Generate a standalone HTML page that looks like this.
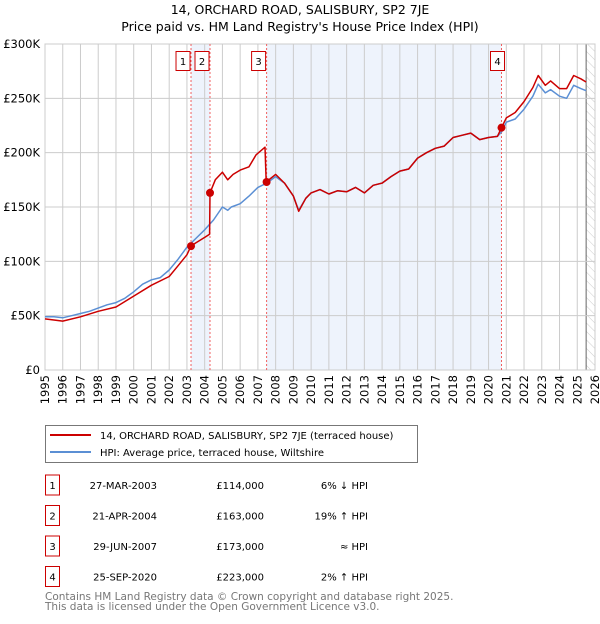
<!DOCTYPE html>
<html><head><meta charset="utf-8"><style>
body{margin:0;background:#fff;font-family:"DejaVu Sans","Liberation Sans",sans-serif;}
svg text{font-family:"DejaVu Sans","Liberation Sans",sans-serif;}
</style></head><body>
<svg id="c" width="600" height="620" xmlns="http://www.w3.org/2000/svg">
<defs><pattern id="hatch" width="6" height="6" patternUnits="userSpaceOnUse" patternTransform="rotate(-45)"><line x1="0" y1="0" x2="0" y2="6" stroke="#ccc" stroke-width="1"/></pattern></defs>
<text x="300" y="14" text-anchor="middle" font-size="12.5">14, ORCHARD ROAD, SALISBURY, SP2 7JE</text>
<text x="300" y="31" text-anchor="middle" font-size="12.5">Price paid vs. HM Land Registry's House Price Index (HPI)</text>
<g id="plot"></g>
<g>
<rect x="45.5" y="425.5" width="372" height="37" fill="#fff" stroke="#777"/>
<line x1="50" y1="435" x2="91" y2="435" stroke="#cc0000" stroke-width="2"/>
<text x="100" y="439" font-size="10">14, ORCHARD ROAD, SALISBURY, SP2 7JE (terraced house)</text>
<line x1="50" y1="452" x2="91" y2="452" stroke="#5b8fd4" stroke-width="2"/>
<text x="100" y="456" font-size="10">HPI: Average price, terraced house, Wiltshire</text>
</g>
<g id="table" font-size="10"></g>
<text x="45" y="600" font-size="10.5" fill="#777">Contains HM Land Registry data © Crown copyright and database right 2025.</text>
<text x="45" y="610" font-size="10.5" fill="#777">This data is licensed under the Open Government Licence v3.0.</text>
</svg>
<script>
const hpiDates=[1995,1995.5,1996,1996.5,1997,1997.5,1998,1998.5,1999,1999.5,2000,2000.5,2001,2001.5,2002,2002.5,2003,2003.5,2004,2004.5,2005,2005.3,2005.5,2006,2006.5,2007,2007.5,2008,2008.5,2009,2009.3,2009.7,2010,2010.5,2011,2011.5,2012,2012.5,2013,2013.5,2014,2014.5,2015,2015.5,2016,2016.5,2017,2017.5,2018,2018.5,2019,2019.5,2020,2020.5,2020.73,2021,2021.5,2022,2022.5,2022.8,2023.2,2023.5,2024,2024.4,2024.8,2025.2,2025.5];
const hpiValues=[49,49,48,50,52,54,57,60,62,66,72,79,83,85,92,102,113,121,129,138,150,147,150,153,160,168,172,178,172,160,147,158,163,166,162,165,164,168,163,170,172,178,183,185,195,200,204,206,214,216,218,212,214,215,219,228,231,240,252,263,255,258,252,250,262,259,257];
const redDates=[1995,1996,1997,1998,1999,2000,2001,2002,2002.5,2003,2003.23,2003.5,2004,2004.28,2004.3,2004.6,2005,2005.3,2005.6,2006,2006.5,2006.9,2007.4,2007.47,2008,2008.5,2009,2009.3,2009.7,2010,2010.5,2011,2011.5,2012,2012.5,2013,2013.5,2014,2014.5,2015,2015.5,2016,2016.5,2017,2017.5,2018,2018.5,2019,2019.5,2020,2020.5,2020.73,2021,2021.5,2022,2022.5,2022.8,2023.2,2023.5,2024,2024.4,2024.8,2025.2,2025.5];
const redValues=[47,45,49,54,58,68,78,86,96,106,114,117,122,125,163,175,182,175,180,184,187,198,205,173,180,172,160,146,158,163,166,162,165,164,168,163,170,172,178,183,185,195,200,204,206,214,216,218,212,214,215,223,232,237,247,260,271,262,266,259,259,271,268,265];
const saleDates=[2003.23,2004.3,2007.49,2020.73];
const saleValues=[114,163,173,223];
const saleLabels=["1","2","3","4"];
const saleDateText=["27-MAR-2003","21-APR-2004","29-JUN-2007","25-SEP-2020"];
const salePriceText=["£114,000","£163,000","£173,000","£223,000"];
const saleHpiText=["6% ↓ HPI","19% ↑ HPI","≈ HPI","2% ↑ HPI"];
const yTicks=[0,50,100,150,200,250,300];
const yTickLabels=["£0","£50K","£100K","£150K","£200K","£250K","£300K"];
const xYears=[];for(let y=1995;y<=2026;y++)xYears.push(y);

const X0=45,X1=595,Y0=370,Y1=44;
const xs=t=>X0+(t-1995)/(2026-1995)*(X1-X0);
const ys=v=>Y0-v/300*(Y0-Y1);
const NS="http://www.w3.org/2000/svg";
const plot=document.getElementById('plot');
function mk(tag,attrs,parent){const e=document.createElementNS(NS,tag);for(const k in attrs)e.setAttribute(k,attrs[k]);(parent||plot).appendChild(e);return e;}

mk('rect',{x:X0,y:Y1,width:X1-X0,height:Y0-Y1,fill:'#fff',stroke:'#ccc'});
let e=mk('rect',{x:xs(saleDates[0]),y:Y1,width:xs(saleDates[1])-xs(saleDates[0]),height:Y0-Y1,fill:'#eef3fc'});


e=mk('rect',{x:xs(saleDates[2]),y:Y1,width:xs(saleDates[3])-xs(saleDates[2]),height:Y0-Y1,fill:'#eef3fc'});


e=mk('rect',{x:xs(2025.5),y:Y1,width:X1-xs(2025.5),height:Y0-Y1,fill:'url(#hatch)'});


mk('line',{x1:xs(2025.5),x2:xs(2025.5),y1:Y1,y2:Y0,stroke:'#666','stroke-width':1});
xYears.forEach(y=>{mk('line',{x1:xs(y),x2:xs(y),y1:Y1,y2:Y0,stroke:'#ccc'});
 const t=mk('text',{x:0,y:0,transform:`translate(${xs(y)+4},${Y0+5}) rotate(-90)`,'text-anchor':'end','font-size':'11.5'});t.textContent=y;
 
 });
yTicks.forEach((v,i)=>{mk('line',{x1:X0,x2:X1,y1:ys(v),y2:ys(v),stroke:'#ccc'});
 const t=mk('text',{x:X0-5,y:ys(v)+4,'text-anchor':'end','font-size':'11.5'});t.textContent=yTickLabels[i];
 
 });
saleDates.forEach((d,i)=>{mk('line',{x1:xs(d),x2:xs(d),y1:Y1,y2:Y0,stroke:'#f06060','stroke-dasharray':'2,2'});
 const bx=xs(d)-(i==3?4:8);
 const r=mk('rect',{x:bx-7,y:51.5,width:14,height:19,fill:'#fff',stroke:'#cc0000'});
 
 
 const t=mk('text',{x:bx,y:65,'text-anchor':'middle','font-size':'10'});t.textContent=saleLabels[i];});
function path(ds,vs,col,name){const p=mk('path',{d:ds.map((d,i)=>(i?'L':'M')+xs(d).toFixed(1)+','+ys(vs[i]).toFixed(1)).join(''),fill:'none',stroke:col,'stroke-width':1.5,'stroke-linejoin':'round'});
 
 }
path(hpiDates,hpiValues,'#5b8fd4','hpi-line');
path(redDates,redValues,'#cc0000','property-price-line');
saleDates.forEach((d,i)=>{const c=mk('circle',{cx:xs(d),cy:ys(saleValues[i]),r:4,fill:'#cc0000'});
 
 });
const tb=document.getElementById('table');
saleLabels.forEach((l,i)=>{const y=485+i*30.5;
 const r=mk('rect',{x:45.5,y:y-10,width:14,height:20,fill:'#fff',stroke:'#cc0000'},tb);
 
 
 let t=mk('text',{x:52.5,y:y+4,'text-anchor':'middle'},tb);t.textContent=l;
 t=mk('text',{x:157,y:y+4,'text-anchor':'end'},tb);t.textContent=saleDateText[i];
 
 
 t=mk('text',{x:264,y:y+4,'text-anchor':'end'},tb);t.textContent=salePriceText[i];
 
 
 t=mk('text',{x:368,y:y+4,'text-anchor':'end'},tb);t.textContent=saleHpiText[i];
 
 });
</script>
</body></html>
